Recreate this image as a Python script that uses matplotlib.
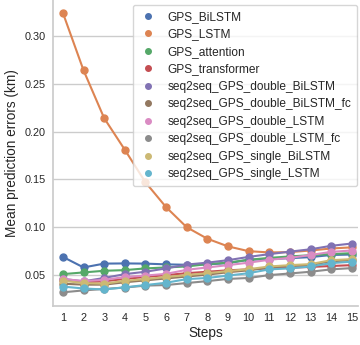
import numpy as np
import matplotlib
matplotlib.use("Agg")
from matplotlib import pyplot as plt
from matplotlib.lines import Line2D
import seaborn as sns

sns.set_theme(style="whitegrid")
plt.rcParams['font.family'] = ['Liberation Sans', 'DejaVu Sans']

steps = list(range(1, 16))

names = ["GPS_BiLSTM", "GPS_LSTM", "GPS_attention", "GPS_transformer",
         "seq2seq_GPS_double_BiLSTM", "seq2seq_GPS_double_BiLSTM_fc",
         "seq2seq_GPS_double_LSTM", "seq2seq_GPS_double_LSTM_fc",
         "seq2seq_GPS_single_BiLSTM", "seq2seq_GPS_single_LSTM"]

gps_bilstm = [0.069, 0.058, 0.062, 0.0622, 0.062, 0.0612, 0.0608, 0.0612, 0.0625,
              0.066, 0.0667, 0.0677, 0.0688, 0.071, 0.0715]
gps_lstm = [0.324, 0.264, 0.214, 0.181, 0.147, 0.121, 0.100, 0.088, 0.080,
            0.075, 0.0737, 0.074, 0.0757, 0.0778, 0.079]
gps_attention = [0.051, 0.0528, 0.0545, 0.0552, 0.057, 0.058, 0.059, 0.0615, 0.063,
                 0.066, 0.068, 0.0695, 0.0708, 0.072, 0.0729]
gps_transformer = [0.045, 0.0425, 0.0435, 0.046, 0.048, 0.050, 0.052, 0.0535, 0.055,
                   0.056, 0.057, 0.0578, 0.0585, 0.0595, 0.0604]
s2s_double_bilstm = [0.046, 0.0435, 0.047, 0.051, 0.0535, 0.057, 0.061, 0.063, 0.0656,
                     0.069, 0.0719, 0.0745, 0.077, 0.0806, 0.083]
s2s_double_bilstm_fc = [0.041, 0.040, 0.040, 0.0425, 0.0445, 0.0465, 0.0485, 0.0505, 0.053,
                        0.055, 0.058, 0.0595, 0.0605, 0.0645, 0.0655]
s2s_double_lstm = [0.046, 0.0437, 0.045, 0.048, 0.0495, 0.0513, 0.0555, 0.058, 0.0604,
                   0.063, 0.066, 0.068, 0.071, 0.0743, 0.0757]
s2s_double_lstm_fc = [0.032, 0.034, 0.0355, 0.037, 0.039, 0.0396, 0.0417, 0.0437, 0.046,
                      0.047, 0.050, 0.0517, 0.0535, 0.056, 0.0573]
s2s_single_bilstm = [0.044, 0.0417, 0.041, 0.044, 0.0458, 0.048, 0.050, 0.052, 0.0542,
                     0.0562, 0.059, 0.0604, 0.0615, 0.0656, 0.0667]
s2s_single_lstm = [0.038, 0.036, 0.035, 0.0372, 0.0396, 0.042, 0.0458, 0.047, 0.0495,
                   0.052, 0.056, 0.057, 0.059, 0.0625, 0.064]

series = [gps_bilstm, gps_lstm, gps_attention, gps_transformer, s2s_double_bilstm,
          s2s_double_bilstm_fc, s2s_double_lstm, s2s_double_lstm_fc,
          s2s_single_bilstm, s2s_single_lstm]

colors = sns.color_palette("deep", 10)

fig = plt.figure(figsize=(3.6, 3.45), dpi=100)
ax = fig.add_axes([53 / 360, 39 / 345, 305 / 360, 306 / 345])

for name, vals, c in zip(names, series, colors):
    ax.plot(steps, vals, '-o', color=c, lw=1.5, ms=5, label=name)

ax.set_xlim(0.52, 15.3)
ax.set_ylim(0.0177, 0.3375)
ax.set_xticks(steps)
ax.set_yticks([0.05, 0.10, 0.15, 0.20, 0.25, 0.30])
ax.set_yticklabels(["0.05", "0.10", "0.15", "0.20", "0.25", "0.30"])
ax.tick_params(labelsize=7.8, length=0, pad=5)
ax.set_xlabel("Steps", fontsize=9.8, labelpad=2)
ax.set_ylabel("Mean prediction errors (km)", fontsize=9.8, labelpad=4)
ax.grid(axis='x', visible=False)
sns.despine(ax=ax)

# legend shows the dots only
handles = [Line2D([], [], ls='', marker='o', color=c, ms=4) for c in colors]
ax.legend(handles, names, loc="upper right", bbox_to_anchor=(0.997, 0.984),
          fontsize=8.6, handlelength=1.5, labelspacing=0.46, borderaxespad=0,
          borderpad=0.5, handletextpad=0.9, frameon=True)

fig.savefig("out.png", dpi=100)
